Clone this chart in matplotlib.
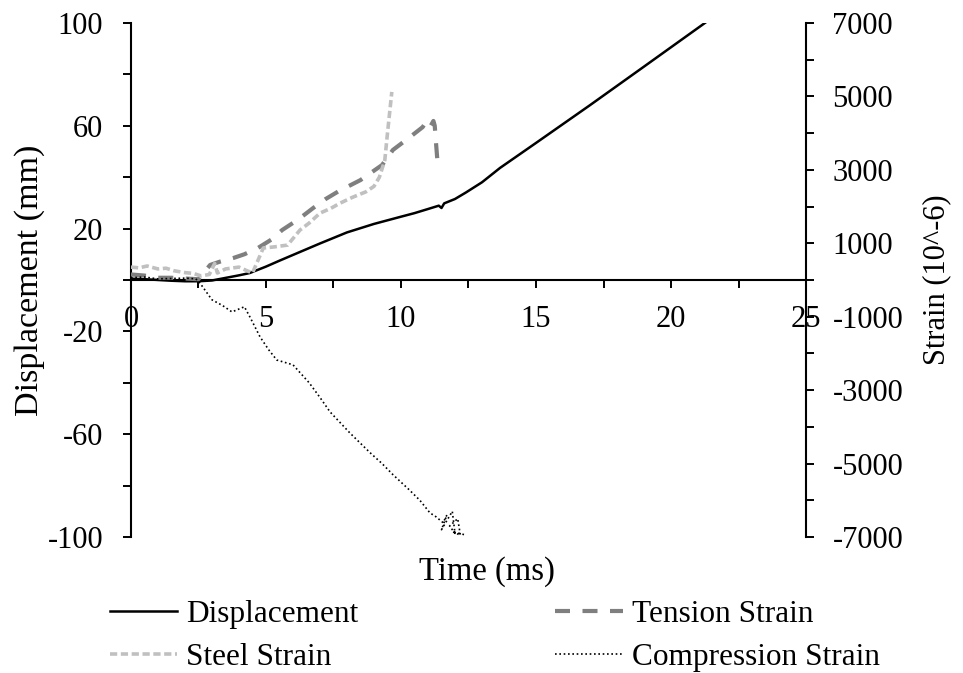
import numpy as np
import matplotlib.pyplot as plt
from matplotlib.ticker import MultipleLocator, FixedLocator

plt.rcParams['font.family'] = ['Liberation Serif', 'DejaVu Serif']
plt.rcParams['font.size'] = 22
plt.rcParams['axes.unicode_minus'] = False

# displacement (mm), left axis
disp_t = [0.0, 0.5, 1.0, 1.5, 2.0, 2.5, 3.0, 3.5, 4.0, 4.4, 5.0, 5.5, 6.26, 7.0, 8.0, 9.0, 9.96,
          10.5, 11.0, 11.4, 11.5, 11.6, 12.0, 12.4, 13.0, 13.67, 15.0, 17.0, 19.0, 21.26]
disp_mm = [0.5, 0.3, 0.0, -0.3, -0.5, -0.5, -0.2, 0.8, 1.8, 2.7, 5.2, 7.5, 10.9, 14.2, 18.5, 21.8, 24.5,
           26.0, 27.6, 28.9, 28.0, 29.8, 31.5, 34.0, 38.0, 43.6, 53.3, 68.0, 83.0, 100.0]

# tension strain (10^-6), right axis
ten_t = [0.0, 0.5, 1.0, 1.5, 2.0, 2.5, 2.93, 3.3, 3.8, 4.2, 4.7, 5.2, 5.6, 6.2, 6.75, 7.2, 7.7,
         8.5, 9.3, 9.7, 10.33, 10.8, 10.9, 11.05, 11.2, 11.25, 11.3, 11.37]
ten_us = [150, 120, 60, 60, 40, 20, 408, 500, 600, 700, 870, 1100, 1360, 1650, 1960, 2200, 2420,
          2720, 3130, 3540, 3890, 4160, 4270, 4130, 4330, 4200, 3700, 3050]

# steel strain (10^-6), right axis
steel_t = [0.0, 0.3, 0.6, 1.0, 1.3, 1.6, 2.0, 2.3, 2.6, 2.9, 3.1, 3.2, 3.5, 4.0, 4.3, 4.5, 4.9,
           5.3, 5.8, 6.26, 6.6, 7.0, 7.4, 7.74, 8.2, 8.7, 9.0, 9.2, 9.4, 9.5, 9.66]
steel_us = [350, 330, 380, 300, 320, 250, 200, 180, 110, 150, 450, 190, 300, 350, 250, 190, 870,
            900, 950, 1360, 1550, 1820, 1950, 2090, 2250, 2400, 2550, 2800, 3260, 4000, 5120]

# compression strain (10^-6), right axis
comp_t = [0.0, 0.5, 1.0, 1.5, 2.0, 2.4, 2.55, 3.0, 3.4, 3.74, 4.2, 4.4, 4.78, 5.1, 5.4, 6.0,
          6.6, 7.0, 7.37, 8.1, 8.85, 9.3, 9.7, 10.3, 10.7, 11.07, 11.3, 11.56, 11.7, 11.5, 11.9,
          12.0, 11.8, 12.1, 12.2, 11.9, 12.37]
comp_us = [60, 80, 30, 40, 50, 30, -80, -540, -700, -870, -730, -1000, -1550, -1900, -2180, -2310,
           -2800, -3200, -3590, -4160, -4700, -5000, -5300, -5710, -6000, -6340, -6450, -6610,
           -6400, -6800, -6300, -6900, -6700, -6500, -6950, -6850, -6940]

fig = plt.figure(figsize=(9.63, 6.73), dpi=100)
ax = fig.add_axes([0.136, 0.202, 0.701, 0.764])
ax2 = ax.twinx()

l1, = ax.plot(disp_t, disp_mm, color='black', lw=1.8, label='Displacement')
l2, = ax2.plot(ten_t, ten_us, color='#7f7f7f', lw=3, dashes=(3.6, 3.0), label='Tension Strain')
l3, = ax2.plot(steel_t, steel_us, color='#c0c0c0', lw=2.6, dashes=(2.0, 1.0), label='Steel Strain')
l4, = ax2.plot(comp_t, comp_us, color='black', lw=1.2, ls=(0, (1, 1.6)), label='Compression Strain')

ax.set_xlim(0, 25)
ax.set_ylim(-100, 100)
ax2.set_ylim(-7000, 7000)

ax.spines['bottom'].set_position(('data', 0))
ax.spines['top'].set_visible(False)
ax.spines['right'].set_visible(False)
for s in ['top', 'bottom', 'left']:
    ax2.spines[s].set_visible(False)

ax.xaxis.set_major_locator(MultipleLocator(5))
ax.xaxis.set_minor_locator(MultipleLocator(2.5))
ax.yaxis.set_major_locator(FixedLocator([-100, -60, -20, 20, 60, 100]))
ax.yaxis.set_minor_locator(MultipleLocator(20))
ax2.yaxis.set_major_locator(FixedLocator([-7000, -5000, -3000, -1000, 1000, 3000, 5000, 7000]))
ax2.yaxis.set_minor_locator(MultipleLocator(1000))

ax.tick_params(axis='x', which='both', direction='out', length=6, width=1.4, pad=12)
ax.tick_params(axis='y', which='both', direction='out', length=6, width=1.4, pad=14)
ax2.tick_params(axis='y', which='both', direction='out', length=6, width=1.4, pad=13)
for s in ['left', 'bottom']:
    ax.spines[s].set_linewidth(1.5)
ax2.spines['right'].set_linewidth(1.5)

ax.set_ylabel('Displacement (mm)', labelpad=2, fontsize=24.5)
ax2.set_ylabel('Strain (10^-6)', rotation=90, labelpad=14, fontsize=22)
fig.text(0.506, 0.15, 'Time (ms)', ha='center', va='center', fontsize=23.5)

fig.legend(handles=[l1, l3, l2, l4], ncol=2, loc='center left', bbox_to_anchor=(0.114, 0.055),
           frameon=False, handlelength=2.15, handletextpad=0.3, columnspacing=6.3,
           labelspacing=0.44, fontsize=22.5, borderpad=0, borderaxespad=0)

fig.savefig('out.png', dpi=100)
